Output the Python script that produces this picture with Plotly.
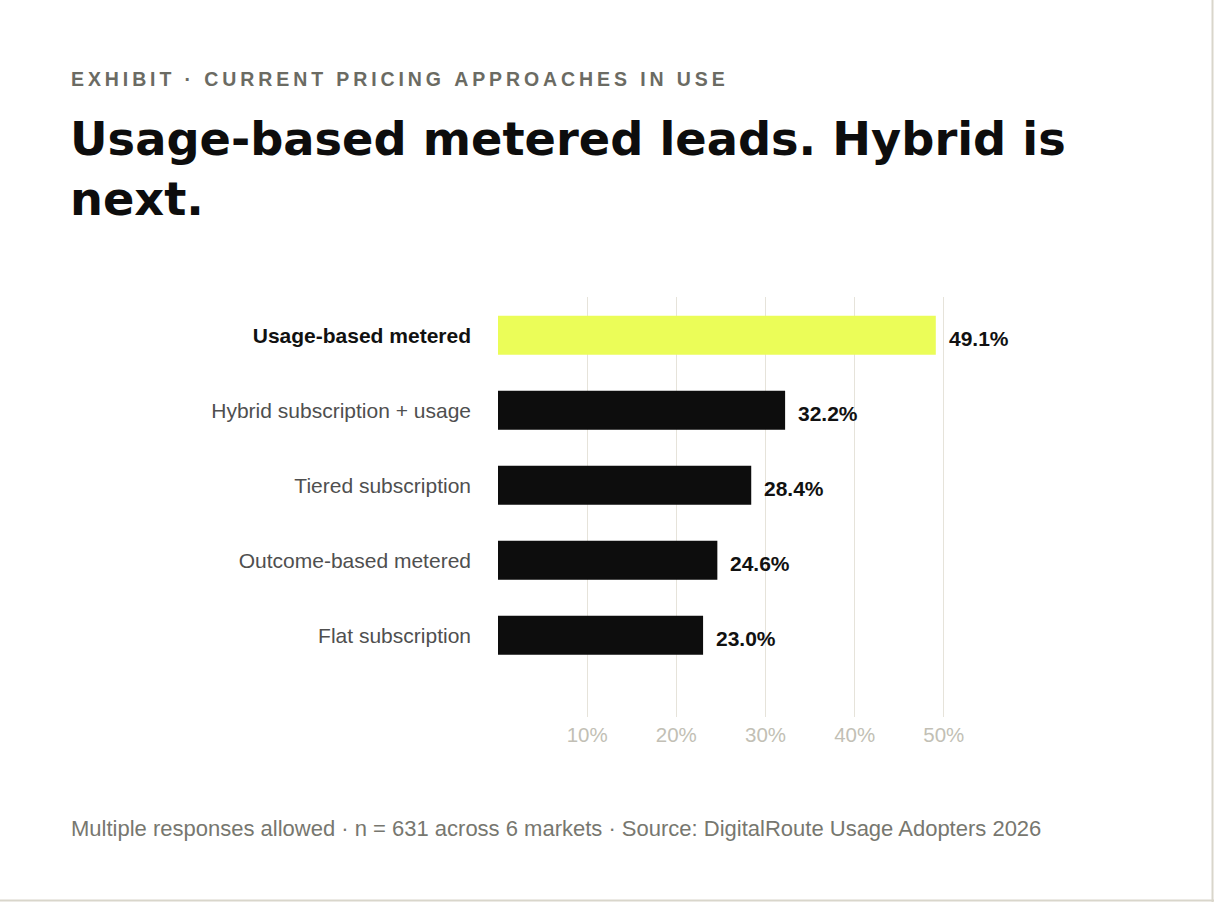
import plotly.graph_objects as go

W, H = 1214, 902
M_L, M_R, M_T, M_B = 498, 214, 297, 185

BG = '#ffffff'
YELLOW = '#ebfd58'
BLACK = '#0d0d0d'
GRID = '#e6e3da'
BORDER = '#d9d6cb'
SANS = 'Liberation Sans, Arial, Helvetica, sans-serif'
HEAVY = 'DejaVu Sans, sans-serif'

categories = [
    'Usage-based metered',
    'Hybrid subscription + usage',
    'Tiered subscription',
    'Outcome-based metered',
    'Flat subscription',
]
shares = [49.1, 32.2, 28.4, 24.6, 23.0]
x_ticks = [10, 20, 30, 40, 50]
x_tick_labels = ['10%', '20%', '30%', '40%', '50%']

kicker = 'EXHIBIT · CURRENT PRICING APPROACHES IN USE'
headline = 'Usage-based metered leads. Hybrid is<br>next.'
footnote = ('Multiple responses allowed · n = 631 across 6 markets · '
            'Source: DigitalRoute Usage Adopters 2026')

JAVASCRIPT = '''document.body.style.margin = "0";
document.body.style.overflow = "hidden";'''


def px_x(px):
    # page pixel -> paper x
    return (px - M_L) / (W - M_L - M_R)


def px_y(py):
    # page pixel (from top) -> paper y
    return (H - M_B - py) / (H - M_T - M_B)


def spaced(text):
    return '\u2009'.join(text)


colors = [YELLOW if i == 0 else BLACK for i in range(len(categories))]
tick_text = ['<b><span style="color:#111111">%s</span></b>' % c if i == 0 else c
             for i, c in enumerate(categories)]

fig = go.Figure()

fig.add_trace(go.Bar(
    x=shares,
    y=categories,
    orientation='h',
    marker=dict(color=colors, line=dict(width=0)),
    width=0.52,
    hoverinfo='skip'
))

for cat, val in zip(categories, shares):
    fig.add_annotation(
        x=val, y=cat, xref='x', yref='y',
        text='<b>%.1f%%</b>' % val,
        showarrow=False, xanchor='left', yanchor='middle',
        xshift=11, yshift=-3,
        font=dict(family=SANS, size=21, color='#111111')
    )

fig.add_annotation(
    x=px_x(69), y=px_y(79), xref='paper', yref='paper',
    text='<b>%s</b>' % spaced(kicker),
    showarrow=False, xanchor='left', yanchor='middle',
    font=dict(family=SANS, size=19.5, color='#6b6b63')
)

fig.add_annotation(
    x=px_x(68), y=px_y(110), xref='paper', yref='paper',
    text='<b>%s</b>' % headline, align='left',
    showarrow=False, xanchor='left', yanchor='top',
    font=dict(family=HEAVY, size=46.3, color='#0d0d0d')
)

fig.add_annotation(
    x=px_x(69), y=px_y(828), xref='paper', yref='paper',
    text=footnote,
    showarrow=False, xanchor='left', yanchor='middle',
    font=dict(family=SANS, size=22, color='#77776f')
)

# card edge along the bottom and right
fig.add_shape(type='line', xref='paper', yref='paper',
              x0=px_x(0), x1=px_x(W), y0=px_y(900.5), y1=px_y(900.5),
              line=dict(color=BORDER, width=2))
fig.add_shape(type='line', xref='paper', yref='paper',
              x0=px_x(1212.5), x1=px_x(1212.5), y0=px_y(0), y1=px_y(H),
              line=dict(color=BORDER, width=2))

fig.update_layout(
    width=W,
    height=H,
    margin=dict(l=M_L, r=M_R, t=M_T, b=M_B),
    paper_bgcolor=BG,
    plot_bgcolor=BG,
    showlegend=False,
    bargap=0.48,
    xaxis=dict(
        range=[0, 56.3],
        tickvals=x_ticks,
        ticktext=x_tick_labels,
        showgrid=True,
        gridcolor=GRID,
        gridwidth=1,
        zeroline=False,
        showline=False,
        ticks='',
        ticklabelstandoff=3,
        tickfont=dict(family=SANS, size=20.5, color='#c2bfb5'),
        fixedrange=True
    ),
    yaxis=dict(
        categoryorder='array',
        categoryarray=categories,
        range=[5.09, -0.51],
        tickvals=categories,
        ticktext=tick_text,
        showgrid=False,
        zeroline=False,
        showline=False,
        ticks='',
        ticklabelstandoff=26,
        tickfont=dict(family=SANS, size=21, color='#4f4f4f'),
        fixedrange=True
    )
)

fig.write_html('out.html', config={'displayModeBar': False}, post_script=[JAVASCRIPT])
